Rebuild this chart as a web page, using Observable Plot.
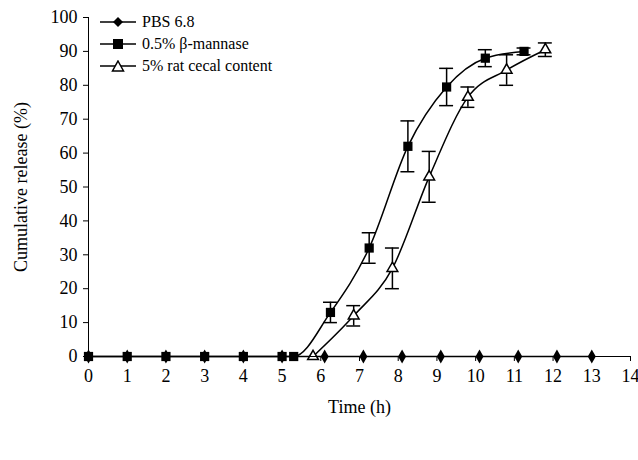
<!DOCTYPE html>
<html><head><meta charset="utf-8">
<script src="https://cdn.jsdelivr.net/npm/d3@7"></script>
<script src="https://cdn.jsdelivr.net/npm/@observablehq/plot@0.6"></script>
<style>
body{margin:0;background:#fff;font-family:"Liberation Serif",serif}
#wrap{position:relative;width:638px;height:460px}
#legend{position:absolute;left:100px;top:11px;font-size:16px;line-height:22px}
#legend div{display:flex;align-items:center}
#legend svg{margin-right:6px}
</style></head><body>
<div id="wrap"><div id="chart"></div>
<div id="legend">
<div><svg width="36" height="12"><line x1="0" x2="36" y1="6" y2="6" stroke="#000" stroke-width="1.5"/><path d="M18,1L23,6L18,11L13,6Z" fill="#000"/></svg>PBS 6.8</div>
<div><svg width="36" height="12"><line x1="0" x2="36" y1="6" y2="6" stroke="#000" stroke-width="1.5"/><rect x="13" y="1" width="10" height="10" fill="#000"/></svg>0.5% β-mannase</div>
<div><svg width="36" height="12"><line x1="0" x2="36" y1="6" y2="6" stroke="#000" stroke-width="1.5"/><path d="M18,1L23.5,11L12.5,11Z" fill="#fff" stroke="#000" stroke-width="1.5"/></svg>5% rat cecal content</div>
</div></div>
<script>
const pbsX = [0,1,2,3,4,5,6.1,7.1,8.1,9.1,10.1,11.1,12.1,13];
const pbsY = [0,0,0,0,0,0,0,0,0,0,0,0,0,0];
const manX = [0,1,2,3,4,5,5.3,6.25,7.25,8.25,9.25,10.25,11.25];
const manY = [0,0,0,0,0,0,0,13,32,62,79.5,88,90];
const manE = [0,0,0,0,0,0,0,3,4.5,7.5,5.5,2.5,1];
const ratX = [5.8,6.85,7.85,8.8,9.8,10.8,11.8];
const ratY = [0,12,26,53,76.5,84.5,90.5];
const ratE = [0,3,6,7.5,3,4.5,2];

const pbs = pbsX.map((x,i)=>({x,y:pbsY[i]}));
const man = manX.map((x,i)=>({x,y:manY[i],e:manE[i]}));
const rat = ratX.map((x,i)=>({x,y:ratY[i],e:ratE[i]}));
const errs = man.concat(rat).filter(d=>d.e>0);
const caps = errs.flatMap(d=>[{x:d.x,y:d.y-d.e},{x:d.x,y:d.y+d.e}]);

const plot = Plot.plot({
  width:638, height:460,
  marginLeft:88, marginRight:8, marginTop:17, marginBottom:104,
  style:{fontFamily:"Liberation Serif, serif", fontSize:"16px", color:"#000"},
  x:{type:"linear", domain:[0,14]},
  y:{type:"linear", domain:[0,100]},
  marks:[
    Plot.line(pbs,{x:"x",y:"y",stroke:"#000",strokeWidth:1.5}),
    Plot.line(man,{x:"x",y:"y",stroke:"#000",strokeWidth:1.5,curve:"monotone-x"}),
    Plot.line(rat,{x:"x",y:"y",stroke:"#000",strokeWidth:1.5,curve:"monotone-x"}),
    Plot.ruleX(errs,{x:"x",y1:d=>d.y-d.e,y2:d=>d.y+d.e,stroke:"#000",strokeWidth:1.5}),
    Plot.ruleY(caps,{y:"y",x1:d=>d.x-0.18,x2:d=>d.x+0.18,stroke:"#000",strokeWidth:1.5}),
    Plot.dot(pbs,{x:"x",y:"y",symbol:"diamond",fill:"#000",r:4.2}),
    Plot.dot(man,{x:"x",y:"y",symbol:"square",fill:"#000",r:5.2}),
    Plot.dot(rat,{x:"x",y:"y",symbol:"triangle",fill:"#fff",stroke:"#000",strokeWidth:1.5,r:4}),
    Plot.axisX(d3.range(0,15),{tickSize:5,tickPadding:8,label:"Time (h)",labelAnchor:"center",labelArrow:"none",labelOffset:56,fontSize:16}),
    Plot.axisY(d3.range(0,101,10),{tickSize:5,tickPadding:6,label:"Cumulative release (%)",labelAnchor:"center",labelArrow:"none",labelOffset:74,fontSize:16}),
    Plot.ruleX([0],{stroke:"#000"}),
    Plot.ruleY([0],{stroke:"#000"})
  ]
});
d3.select(plot).selectAll("[aria-label$='label'] text, g[aria-label='x-axis label'] text, g[aria-label='y-axis label'] text").style("font-size","18px");
document.getElementById("chart").append(plot);
</script></body></html>
